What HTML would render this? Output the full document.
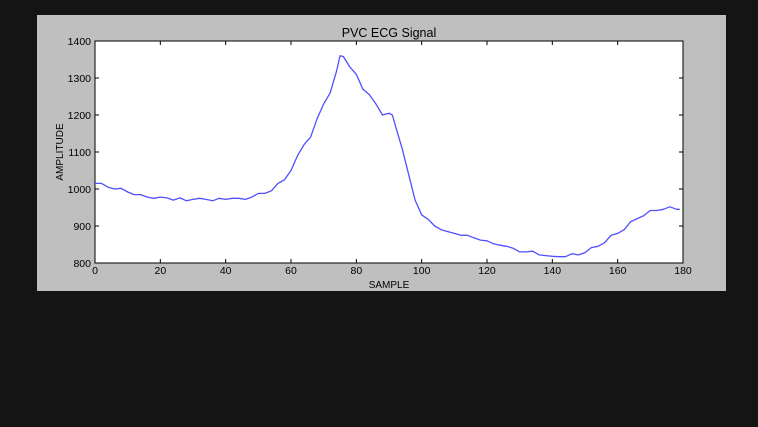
<!DOCTYPE html>
<html><head><meta charset="utf-8"><style>
body{margin:0;background:#141414;width:758px;height:427px;overflow:hidden;font-family:"Liberation Sans",sans-serif;}
</style></head><body>
<svg width="758" height="427" xmlns="http://www.w3.org/2000/svg" style="position:absolute;left:0;top:0">
<rect x="37" y="15" width="689" height="276" fill="#bfbfbf"/>
<rect x="95" y="41" width="588" height="222" fill="#fff" stroke="#000" stroke-width="1"/>
<text x="389" y="37" text-anchor="middle" font-size="12.5" fill="#000">PVC ECG Signal</text>
<text x="389" y="288" text-anchor="middle" font-size="10" fill="#000">SAMPLE</text>
<text transform="translate(63,152) rotate(-90)" text-anchor="middle" font-size="10" fill="#000">AMPLITUDE</text>
<g id="axes"></g>
<path id="line" fill="none" stroke="#5050ff" stroke-width="1.3" stroke-linejoin="round"/>
</svg>
<script>
const xs=[0,2,4,6,8,10,12,14,16,18,20,22,24,26,28,30,32,34,36,38,40,42,44,46,48,50,52,54,56,58,60,62,64,66,68,70,72,74,75,76,78,80,82,84,86,88,90,91,92,94,96,98,100,102,104,106,108,110,112,114,116,118,120,122,124,126,128,130,132,134,136,138,140,142,144,146,148,150,152,154,156,158,160,162,164,166,168,170,172,174,176,178,179];
const ys=[1015,1015,1005,1000,1002,992,985,985,978,975,978,976,970,976,968,972,975,972,968,975,972,975,975,972,978,988,988,995,1015,1025,1050,1090,1120,1140,1190,1230,1260,1320,1360,1358,1330,1310,1270,1255,1230,1200,1205,1200,1170,1110,1040,970,930,918,900,890,885,880,875,875,868,862,860,852,848,845,840,830,830,832,822,820,818,817,817,825,822,828,842,845,855,875,880,890,912,920,928,942,942,945,952,945,945];
const xTicks=[0,20,40,60,80,100,120,140,160,180];
const yTicks=[800,900,1000,1100,1200,1300,1400];
const sx=v=>95+v*588/180, sy=v=>263-(v-800)*222/600;
const ns="http://www.w3.org/2000/svg",g=document.getElementById('axes');
function mk(t,a){const e=document.createElementNS(ns,t);for(const k in a)e.setAttribute(k,a[k]);g.appendChild(e);return e;}
xTicks.forEach(v=>{const x=sx(v);
 let t=mk('line',{x1:x,x2:x,y1:263,y2:259,stroke:'#000'});
 
 
 t=mk('line',{x1:x,x2:x,y1:41,y2:45,stroke:'#000'});
 
 
 const l=mk('text',{x:x,y:274,'text-anchor':'middle','font-size':10.5});l.textContent=v;
 
 });
yTicks.forEach(v=>{const y=sy(v);
 let t=mk('line',{x1:95,x2:99,y1:y,y2:y,stroke:'#000'});
 
 
 t=mk('line',{x1:683,x2:679,y1:y,y2:y,stroke:'#000'});
 
 
 const l=mk('text',{x:91,y:y+4,'text-anchor':'end','font-size':10.5});l.textContent=v;
 
 });
document.getElementById('line').setAttribute('d',xs.map((x,i)=>(i?'L':'M')+sx(x).toFixed(1)+','+sy(ys[i]).toFixed(1)).join(''));
</script>
</body></html>
